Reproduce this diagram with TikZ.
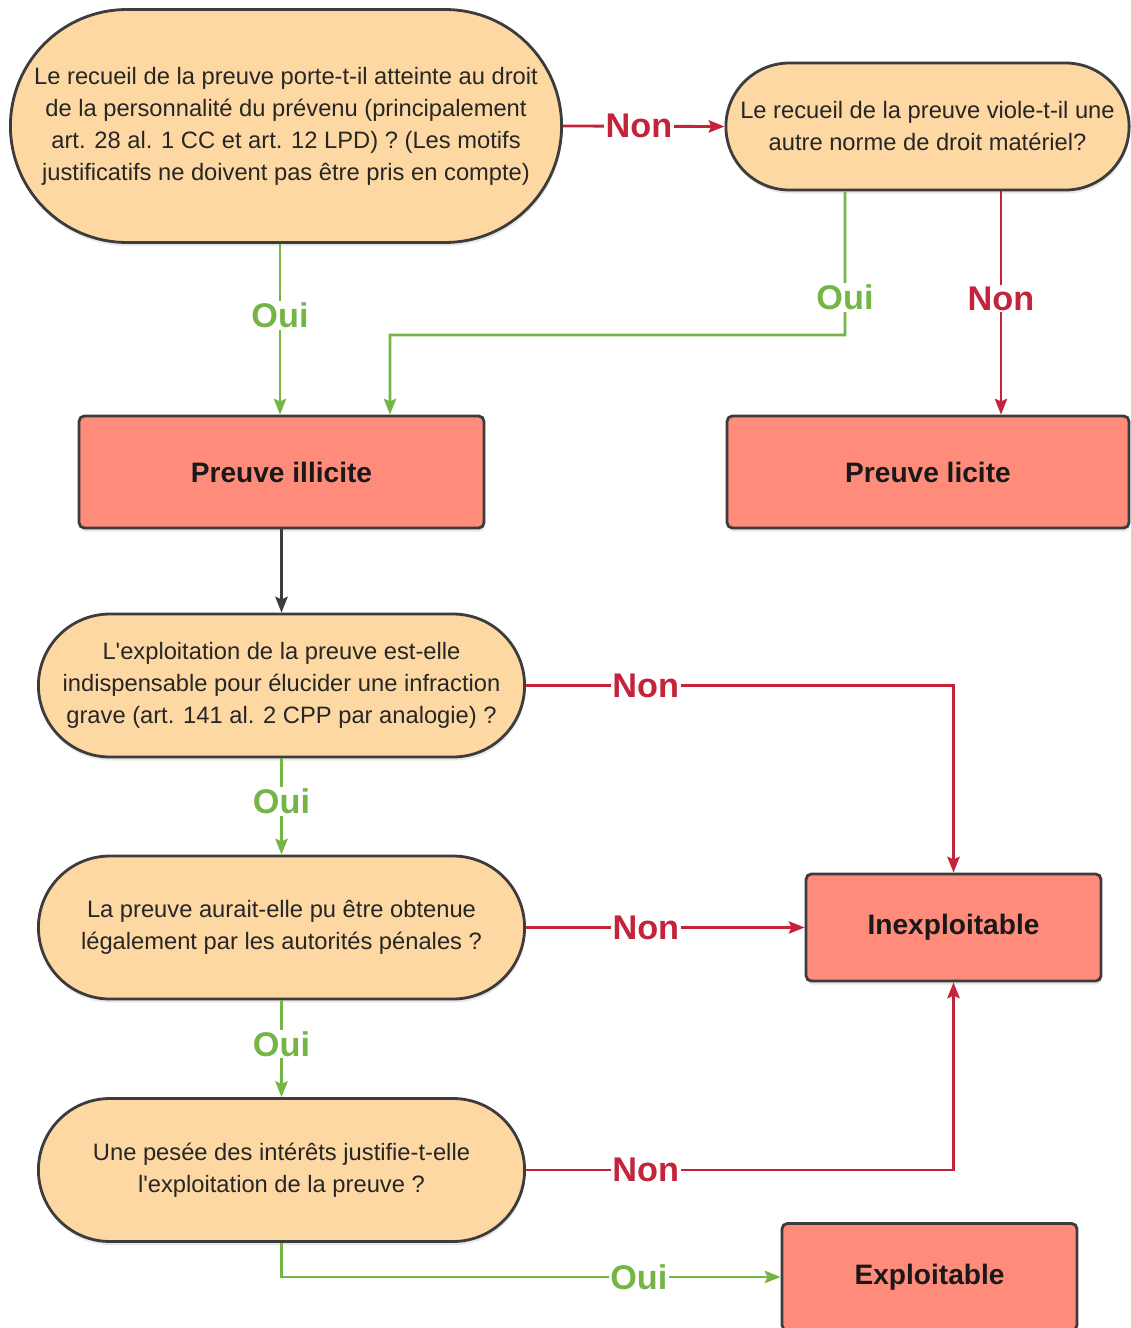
\documentclass[tikz,border=0pt]{standalone}
\usepackage{fontspec}
\setmainfont{Liberation Sans}
\usetikzlibrary{arrows.meta, shapes.misc, shadows}

\definecolor{peach}{HTML}{FDD8A2}
\definecolor{salmon}{HTML}{FF8B7B}
\definecolor{nonred}{HTML}{C3243A}
\definecolor{ouigreen}{HTML}{74B545}
\definecolor{edgegray}{HTML}{3C3C3C}

\begin{document}
\begin{tikzpicture}[x=0.02cm, y=-0.02cm,
  question/.style={rounded rectangle, draw=edgegray, line width=1.6pt, fill=peach,
    align=center, text=black!85, font=\fontsize{13.5}{18.2}\selectfont,
    drop shadow={shadow xshift=0.5pt, shadow yshift=-2pt, opacity=0.18}},
  result/.style={rectangle, rounded corners=3pt, draw=edgegray, line width=1.6pt, fill=salmon,
    text=black!90, font=\fontsize{16}{18}\selectfont\bfseries,
    drop shadow={shadow xshift=0.5pt, shadow yshift=-2pt, opacity=0.18}},
  oui/.style={ouigreen, line width=1.6pt, -{Stealth[length=9pt, width=7pt, inset=1.5pt]}},
  non/.style={nonred, line width=1.6pt, -{Stealth[length=9pt, width=7pt, inset=1.5pt]}},
  plain/.style={edgegray, line width=1.6pt, -{Stealth[length=9pt, width=7pt, inset=1.5pt]}},
  lbl/.style={fill=white, inner sep=1pt, font=\fontsize{19.5}{19.5}\selectfont\bfseries}]
\useasboundingbox (0,0) rectangle (1131,1328);

% Questions
\node[question, minimum width=11.26cm, minimum height=4.66cm] (q1) at (286,126)
  {Le recueil de la preuve porte-t-il atteinte au droit\\
   de la personnalité du prévenu (principalement\\
   art. 28 al. 1 CC et art. 12 LPD) ? (Les motifs\\
   justificatifs ne doivent pas être pris en compte)};
\node[question, minimum width=8.3cm, minimum height=2.54cm] (q2) at (927.5,126.5)
  {Le recueil de la preuve viole-t-il une\\ autre norme de droit matériel?};
\node[question, minimum width=9.96cm, minimum height=2.86cm] (q3) at (281.5,685.5)
  {L\textquotesingle exploitation de la preuve est-elle\\
   indispensable pour élucider une infraction\\
   grave (art. 141 al. 2 CPP par analogie) ?};
\node[question, minimum width=9.96cm, minimum height=2.86cm] (q4) at (281.5,927.5)
  {La preuve aurait-elle pu être obtenue\\ légalement par les autorités pénales ?};
\node[question, minimum width=9.96cm, minimum height=2.86cm] (q5) at (281.5,1170)
  {Une pesée des intérêts justifie-t-elle\\ l\textquotesingle exploitation de la preuve ?};

% Results
\node[result, minimum width=8.1cm, minimum height=2.24cm] (illicite) at (281.5,472) {Preuve illicite};
\node[result, minimum width=8.04cm, minimum height=2.24cm] (licite) at (928,472) {Preuve licite};
\node[result, minimum width=5.9cm, minimum height=2.14cm] (inexpl) at (953.5,927.5) {Inexploitable};
\node[result, minimum width=5.9cm, minimum height=2.14cm] (expl) at (929.5,1277) {Exploitable};

% Top part
\draw[non] (q1.east) -- node[lbl, pos=0.47, text=nonred] {Non} (q2.west);
\draw[oui] ([xshift=-0.12cm]q1.south) -- node[lbl, pos=0.42, text=ouigreen] {Oui} ([xshift=-0.12cm]q1.south |- illicite.north);
\coordinate (q2oui) at (845,335);
\draw[oui] ([xshift=-1.65cm]q2.south) -- node[lbl, pos=0.74, text=ouigreen] {Oui} (q2oui)
  -| ([xshift=2.17cm]illicite.north);
\draw[non] ([xshift=1.47cm]q2.south) -- node[lbl, pos=0.48, text=nonred] {Non} ([xshift=1.47cm]q2.south |- licite.north);
\draw[plain] (illicite.south) -- (q3.north);

% Exploitation
\draw[non] (q3.east) -| node[lbl, pos=0.14, text=nonred] {Non} (inexpl.north);
\draw[oui] (q3.south) -- node[lbl, pos=0.45, text=ouigreen] {Oui} (q4.north);
\draw[non] (q4.east) -- node[lbl, pos=0.43, text=nonred] {Non} (inexpl.west);
\draw[oui] (q4.south) -- node[lbl, pos=0.45, text=ouigreen] {Oui} (q5.north);
\draw[non] (q5.east) -| node[lbl, pos=0.14, text=nonred] {Non} (inexpl.south);
\draw[oui] (q5.south) |- node[lbl, pos=0.858, text=ouigreen] {Oui} (expl.west);
\end{tikzpicture}
\end{document}
